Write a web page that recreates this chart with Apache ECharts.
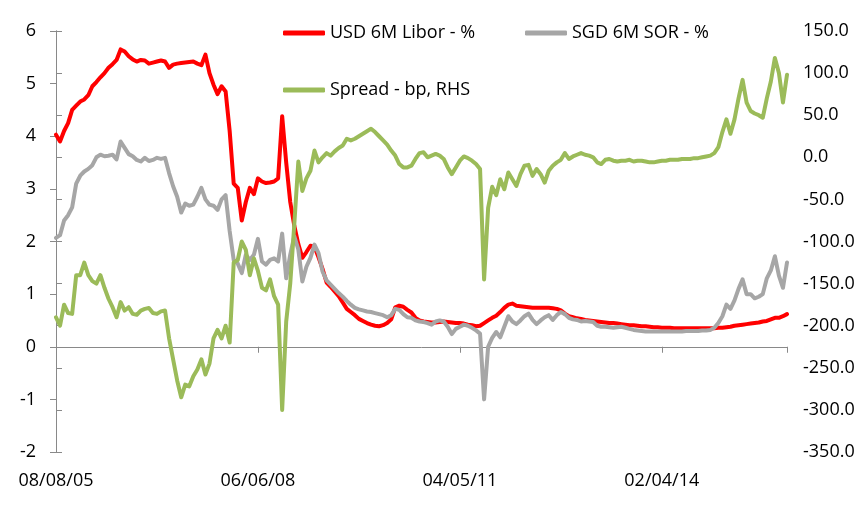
<!DOCTYPE html>
<html>
<head>
<meta charset="utf-8">
<script src="https://cdn.jsdelivr.net/npm/echarts@6/dist/echarts.min.js"></script>
<style>
  html, body { margin: 0; padding: 0; background: #fff; }
  #chart { width: 865px; height: 508px; }
</style>
</head>
<body>
<div id="chart"></div>
<script>
// tick labels on the date axis, one every 50 points
const xTickLabels = ['08/08/05', '06/06/08', '04/05/11', '02/04/14'];
const pointsPerTick = 50;

// USD 6M Libor, %
const libor = [
  4.03, 3.90, 4.10, 4.25, 4.50, 4.58, 4.66, 4.70, 4.78, 4.95,
  5.03, 5.12, 5.20, 5.30, 5.37, 5.45, 5.65, 5.61, 5.52, 5.46,
  5.42, 5.45, 5.44, 5.38, 5.40, 5.42, 5.44, 5.42, 5.30, 5.36,
  5.38, 5.39, 5.40, 5.41, 5.42, 5.38, 5.35, 5.55, 5.20, 4.98,
  4.80, 4.95, 4.85, 4.10, 3.10, 3.02, 2.40, 2.75, 3.02, 2.90,
  3.20, 3.14, 3.11, 3.12, 3.14, 3.20, 4.38, 3.50, 2.75, 2.30,
  1.95, 1.69, 1.80, 1.92, 1.90, 1.70, 1.48, 1.22, 1.14, 1.05,
  0.96, 0.84, 0.72, 0.66, 0.60, 0.53, 0.49, 0.45, 0.42, 0.40,
  0.39, 0.41, 0.45, 0.52, 0.75, 0.78, 0.76, 0.70, 0.65, 0.55,
  0.50, 0.48, 0.47, 0.46, 0.46, 0.47, 0.48, 0.47, 0.46, 0.45,
  0.45, 0.44, 0.42, 0.41, 0.39, 0.40, 0.45, 0.50, 0.55, 0.59,
  0.66, 0.74, 0.80, 0.82, 0.78, 0.77, 0.76, 0.75, 0.74, 0.74,
  0.74, 0.74, 0.74, 0.73, 0.72, 0.69, 0.63, 0.58, 0.56, 0.54,
  0.53, 0.51, 0.50, 0.49, 0.48, 0.47, 0.46, 0.45, 0.45, 0.44,
  0.43, 0.42, 0.41, 0.41, 0.40, 0.39, 0.39, 0.38, 0.37, 0.37,
  0.36, 0.36, 0.36, 0.35, 0.35, 0.35, 0.35, 0.35, 0.35, 0.35,
  0.35, 0.35, 0.35, 0.35, 0.36, 0.36, 0.37, 0.38, 0.40, 0.41,
  0.42, 0.43, 0.44, 0.45, 0.46, 0.48, 0.49, 0.52, 0.55, 0.55,
  0.58, 0.62
];

// SGD 6M SOR, %
const sor = [
  2.07, 2.12, 2.40, 2.50, 2.65, 3.10, 3.25, 3.33, 3.38, 3.45,
  3.60, 3.65, 3.62, 3.63, 3.65, 3.56, 3.90, 3.78, 3.66, 3.62,
  3.55, 3.52, 3.59, 3.53, 3.55, 3.59, 3.57, 3.59, 3.30, 3.05,
  2.85, 2.55, 2.72, 2.68, 2.70, 2.85, 3.02, 2.80, 2.70, 2.68,
  2.60, 2.80, 2.88, 2.20, 1.65, 1.58, 1.40, 1.75, 1.65, 1.75,
  2.05, 1.62, 1.56, 1.65, 1.68, 1.62, 2.15, 1.30, 1.75, 2.10,
  1.85, 1.24, 1.52, 1.69, 1.94, 1.78, 1.43, 1.26, 1.18, 1.10,
  1.02, 0.95, 0.87, 0.80, 0.74, 0.71, 0.69, 0.67, 0.66, 0.64,
  0.62, 0.60, 0.56, 0.60, 0.72, 0.70, 0.62, 0.56, 0.55, 0.50,
  0.48, 0.47, 0.45, 0.42, 0.48, 0.50, 0.48, 0.38, 0.24, 0.34,
  0.38, 0.42, 0.40, 0.36, 0.31, 0.25, -1.00, 0.00, 0.17, 0.28,
  0.18, 0.38, 0.58, 0.48, 0.43, 0.50, 0.58, 0.63, 0.51, 0.43,
  0.50, 0.56, 0.60, 0.51, 0.60, 0.66, 0.62, 0.55, 0.52, 0.51,
  0.48, 0.49, 0.48, 0.47, 0.40, 0.38, 0.38, 0.37, 0.36, 0.37,
  0.38, 0.36, 0.34, 0.32, 0.31, 0.30, 0.29, 0.29, 0.29, 0.29,
  0.29, 0.29, 0.29, 0.29, 0.29, 0.29, 0.30, 0.30, 0.30, 0.30,
  0.31, 0.31, 0.32, 0.36, 0.45, 0.58, 0.80, 0.72, 0.88, 1.10,
  1.28, 1.00, 1.00, 0.92, 0.95, 1.00, 1.30, 1.45, 1.72, 1.35,
  1.12, 1.60
];

// SOR - Libor spread, bp (right axis)
const spread = [
  -190, -200, -175, -185, -186, -140, -140, -125, -140, -147,
  -150, -140, -155, -168, -178, -190, -172, -182, -178, -186,
  -187, -182, -180, -179, -185, -186, -183, -182, -215, -240,
  -265, -285, -270, -272, -260, -252, -240, -258, -245, -215,
  -205, -215, -200, -220, -125, -122, -100, -110, -140, -120,
  -135, -155, -158, -145, -165, -175, -300, -195, -150, -80,
  -5, -40, -25, -16, 8, -6, 0, 5, 2, 7,
  11, 14, 22, 20, 22, 25, 28, 31, 34, 30,
  25, 20, 15, 8, 2, -8, -12, -12, -10, -2,
  5, 6, 0, 2, 4, 2, -2, -12, -20, -12,
  -4, 1, -1, -4, -8, -14, -145, -60, -35, -45,
  -26, -38, -18, -26, -34, -20, -10, -9, -22, -14,
  -20, -30, -16, -10, -6, -3, 5, -2, 1, 3,
  5, 3, 2, 0, -6, -8, -3, -2, -4, -5,
  -4, -4, -3, -5, -4, -4, -5, -6, -6, -5,
  -4, -4, -3, -3, -3, -2, -2, -2, -1, -1,
  0, 1, 2, 5, 12, 30, 45, 28, 45, 70,
  92, 65, 55, 52, 50, 47, 70, 90, 118, 100,
  65, 98
];

const font = "'Open Sans', 'Noto Sans', sans-serif";
const axisGray = '#898989';

function pairs(arr) {
  return arr.map((v, i) => [i, v]);
}

const chart = echarts.init(document.getElementById('chart'));

const legendBase = {
  orient: 'horizontal',
  icon: 'roundRect',
  itemWidth: 42,
  itemHeight: 5,
  padding: 0,
  textStyle: { fontFamily: font, fontSize: 18, color: '#000' },
  selectedMode: false
};

const option = {
  animation: false,
  backgroundColor: '#fff',
  legend: [
    Object.assign({ left: 283, top: 24, data: ['USD 6M Libor - %'] }, legendBase),
    Object.assign({ left: 525, top: 24, data: ['SGD 6M SOR - %'] }, legendBase),
    Object.assign({ left: 283, top: 81, data: ['Spread - bp, RHS'] }, legendBase)
  ],
  grid: { left: 56, right: 78, top: 31, bottom: 56, containLabel: false },
  xAxis: [
    {
      type: 'value',
      min: 0,
      max: libor.length - 1,
      interval: pointsPerTick,
      position: 'bottom',
      axisLine: { show: false, onZero: false },
      axisTick: { show: false },
      splitLine: { show: false },
      axisLabel: {
        margin: 20,
        fontFamily: font,
        fontSize: 18,
        color: '#000',
        showMaxLabel: false,
        formatter: function (v) {
          if (v % pointsPerTick !== 0) return '';
          return xTickLabels[v / pointsPerTick] || '';
        }
      }
    },
    {
      type: 'value',
      min: 0,
      max: libor.length - 1,
      interval: pointsPerTick,
      position: 'bottom',
      axisLine: { show: true, onZero: true, onZeroAxisIndex: 0, lineStyle: { color: axisGray, width: 1 } },
      axisTick: { show: true, length: 6, lineStyle: { color: axisGray } },
      axisLabel: { show: false },
      splitLine: { show: false }
    }
  ],
  yAxis: [
    {
      type: 'value',
      min: -2,
      max: 6,
      interval: 1,
      position: 'left',
      axisLine: { show: true, lineStyle: { color: axisGray, width: 1 } },
      axisTick: { show: true, length: 6, lineStyle: { color: axisGray } },
      splitLine: { show: false },
      axisLabel: { margin: 20, fontFamily: font, fontSize: 18, color: '#000' }
    },
    {
      type: 'value',
      min: -350,
      max: 150,
      interval: 50,
      position: 'right',
      axisLine: { show: true, lineStyle: { color: axisGray, width: 1 } },
      axisTick: { show: true, length: 6, lineStyle: { color: axisGray } },
      splitLine: { show: false },
      axisLabel: {
        margin: 16,
        fontFamily: font,
        fontSize: 18,
        color: '#000',
        formatter: v => v.toFixed(1)
      }
    }
  ],
  series: [
    {
      name: 'USD 6M Libor - %',
      type: 'line',
      xAxisIndex: 0,
      yAxisIndex: 0,
      data: pairs(libor),
      showSymbol: false,
      color: '#FF0000',
      lineStyle: { width: 4, color: '#FF0000', cap: 'round', join: 'round' }
    },
    {
      name: 'SGD 6M SOR - %',
      type: 'line',
      xAxisIndex: 0,
      yAxisIndex: 0,
      data: pairs(sor),
      showSymbol: false,
      color: '#A6A6A6',
      lineStyle: { width: 4, color: '#A6A6A6', cap: 'round', join: 'round' }
    },
    {
      name: 'Spread - bp, RHS',
      type: 'line',
      xAxisIndex: 0,
      yAxisIndex: 1,
      data: pairs(spread),
      showSymbol: false,
      color: '#9BBB59',
      lineStyle: { width: 4, color: '#9BBB59', cap: 'round', join: 'round' }
    }
  ]
};

chart.setOption(option);
</script>
</body>
</html>
